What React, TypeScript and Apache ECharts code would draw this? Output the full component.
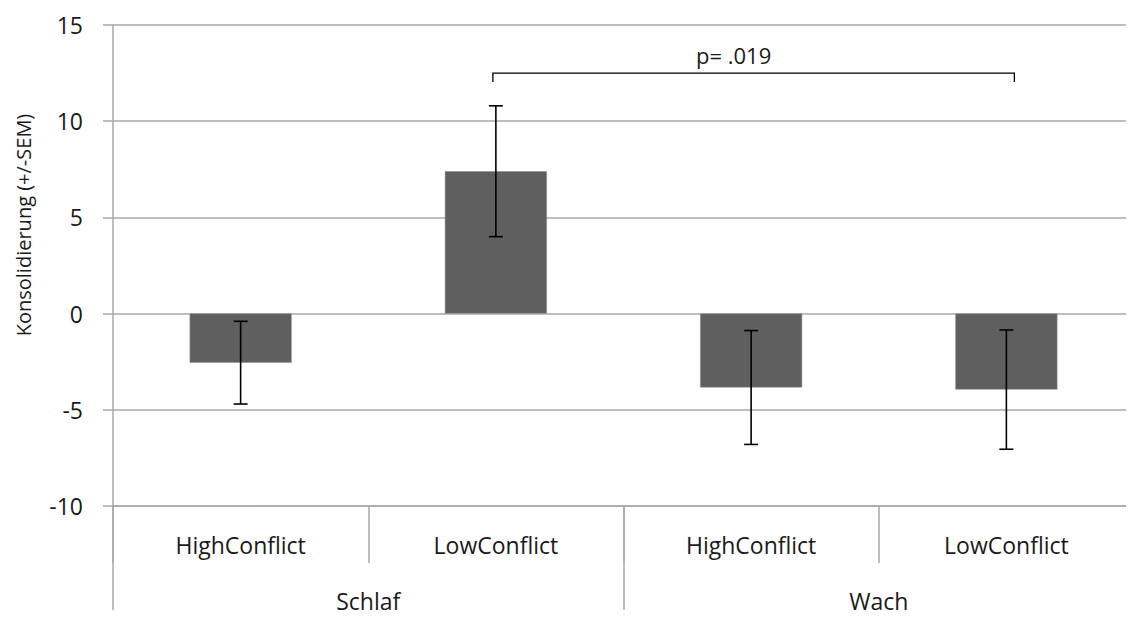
import React, { useEffect, useRef } from "react";
import * as echarts from "echarts";

const conditions = ["HighConflict", "LowConflict", "HighConflict", "LowConflict"];
const groups = ["Schlaf", "Wach"];
const means = [-2.55, 7.4, -3.84, -3.95];
const sems = [2.15, 3.4, 2.96, 3.1];
const yTicks = { min: -10, max: 15, interval: 5 };
const bracket = { from: 1, to: 3, level: 12.5, label: "p= .019" };
const yTitle = "Konsolidierung (+/-SEM)";

const FONT = "'Open Sans', 'Liberation Sans', sans-serif";

export default function App() {
  const ref = useRef<HTMLDivElement>(null);
  useEffect(() => {
    if (!ref.current) return;
    const chart = echarts.init(ref.current, undefined, { renderer: "svg" });
    const errData = means.map((m, i) => [i, m - sems[i], m + sems[i]]);
    const grey = "#a8a8a8";
    chart.setOption({
      animation: false,
      backgroundColor: "#ffffff",
      grid: { left: 113, top: 25, width: 1028, height: 481 },
      xAxis: [
        {
          type: "category",
          data: conditions,
          position: "bottom",
          axisLine: { show: true, onZero: false, lineStyle: { color: grey, width: 1.5 } },
          axisTick: { show: true, interval: 0, length: 57, lineStyle: { color: grey, width: 1.5 } },
          axisLabel: { interval: 0, fontSize: 23, color: "#1a1a1a", margin: 27, fontFamily: FONT },
        },
        {
          type: "category",
          data: groups,
          position: "bottom",
          axisLine: { show: false, onZero: false },
          axisTick: { show: true, interval: 0, length: 112, lineStyle: { color: grey, width: 1.5 } },
          axisLabel: { interval: 0, fontSize: 23, color: "#1a1a1a", margin: 83, fontFamily: FONT },
        },
      ],
      yAxis: {
        type: "value",
        min: yTicks.min,
        max: yTicks.max,
        interval: yTicks.interval,
        axisLine: { show: true, lineStyle: { color: grey, width: 1.5 } },
        axisTick: { show: true, length: 10, lineStyle: { color: grey, width: 1.5 } },
        splitLine: { show: true, lineStyle: { color: grey, width: 1.5 } },
        axisLabel: { fontSize: 23, color: "#1a1a1a", margin: 30, fontFamily: FONT },
      },
      series: [
        {
          type: "bar",
          xAxisIndex: 0,
          data: means,
          barWidth: 102,
          itemStyle: { color: "#5f5f5f", borderColor: "#8a8a8a", borderWidth: 0.5 },
        },
        {
          type: "custom",
          xAxisIndex: 0,
          data: errData,
          z: 10,
          renderItem: (params: any, api: any) => {
            const x = api.value(0);
            const lo = api.coord([x, api.value(1)]);
            const hi = api.coord([x, api.value(2)]);
            const cap = 7;
            const style = { stroke: "#000", lineWidth: 1.6 };
            return {
              type: "group",
              children: [
                { type: "line", shape: { x1: lo[0], y1: lo[1], x2: hi[0], y2: hi[1] }, style },
                { type: "line", shape: { x1: lo[0] - cap, y1: lo[1], x2: lo[0] + cap, y2: lo[1] }, style },
                { type: "line", shape: { x1: hi[0] - cap, y1: hi[1], x2: hi[0] + cap, y2: hi[1] }, style },
              ],
            };
          },
        },
        {
          type: "custom",
          xAxisIndex: 0,
          data: [[bracket.from, bracket.to, bracket.level]],
          z: 10,
          clip: false,
          renderItem: (params: any, api: any) => {
            const a = api.coord([api.value(0), api.value(2)]);
            const b = api.coord([api.value(1), api.value(2)]);
            const x1 = a[0] - 3;
            const x2 = b[0] + 8;
            const y = a[1];
            return {
              type: "group",
              children: [
                {
                  type: "polyline",
                  shape: { points: [[x1, y + 9], [x1, y], [x2, y], [x2, y + 9]] },
                  style: { stroke: "#000", lineWidth: 1.3, fill: "none" },
                },
                {
                  type: "text",
                  x: (x1 + x2) / 2 - 20,
                  y: y - 18,
                  style: {
                    text: bracket.label,
                    fontSize: 22,
                    fontFamily: FONT,
                    fill: "#1a1a1a",
                    align: "center",
                    verticalAlign: "middle",
                  },
                },
              ],
            };
          },
        },
      ],
      graphic: [
        {
          type: "text",
          x: 23,
          y: 225,
          rotation: Math.PI / 2,
          style: {
            text: yTitle,
            fontSize: 20,
            fontFamily: FONT,
            fill: "#1a1a1a",
            align: "center",
            verticalAlign: "middle",
          },
        },
      ],
    });
    return () => chart.dispose();
  }, []);
  return <div ref={ref} style={{ width: 1134, height: 618, margin: -8 }} />;
}
